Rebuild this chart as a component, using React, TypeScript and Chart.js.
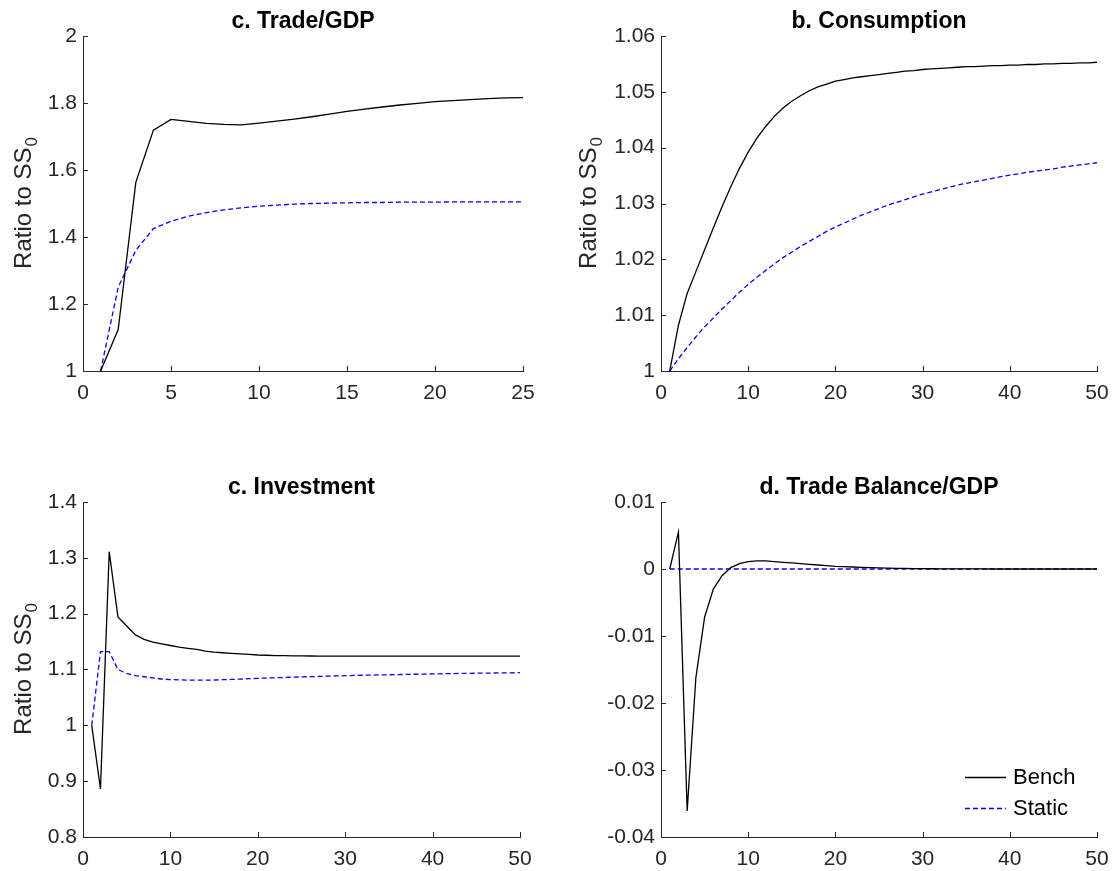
import React, { useEffect, useRef } from "react";
import { Chart, registerables } from "chart.js";

Chart.register(...registerables);

const FONT = "'Liberation Sans', Arial, Helvetica, sans-serif";
const AXIS_COLOR = "#262626";

// ---------- categories (periods) ----------
const PERIODS_25 = [1, 2, 3, 4, 5, 6, 7, 8, 9, 10, 11, 12, 13, 14, 15, 16, 17, 18, 19, 20, 21, 22, 23, 24, 25];
const PERIODS_50 = [
  1, 2, 3, 4, 5, 6, 7, 8, 9, 10, 11, 12, 13, 14, 15, 16, 17, 18, 19, 20, 21, 22, 23, 24, 25,
  26, 27, 28, 29, 30, 31, 32, 33, 34, 35, 36, 37, 38, 39, 40, 41, 42, 43, 44, 45, 46, 47, 48, 49, 50,
];

// ---------- series ----------
const TRADE_GDP_BENCH = [
  1.0, 1.124, 1.563, 1.719, 1.751, 1.745, 1.739, 1.736, 1.735, 1.74, 1.746, 1.752, 1.759,
  1.767, 1.775, 1.782, 1.788, 1.794, 1.799, 1.804, 1.807, 1.81, 1.813, 1.815, 1.816,
];
const TRADE_GDP_STATIC = [
  1.0, 1.25, 1.36, 1.425, 1.447, 1.462, 1.473, 1.481, 1.487, 1.492, 1.495, 1.498, 1.5,
  1.501, 1.502, 1.503, 1.503, 1.504, 1.504, 1.504, 1.505, 1.505, 1.505, 1.505, 1.505,
];

const CONSUMPTION_BENCH = [
  1.0, 1.0082, 1.0139, 1.0178, 1.0217, 1.0256, 1.0294, 1.033, 1.0363, 1.0392,
  1.0417, 1.0438, 1.0456, 1.0471, 1.0483, 1.0493, 1.0502, 1.0509, 1.0514, 1.0519,
  1.0522, 1.0525, 1.0527, 1.0529, 1.0531, 1.0533, 1.0535, 1.0537, 1.0538, 1.054,
  1.0541, 1.0542, 1.0543, 1.0544, 1.0545, 1.0545, 1.0546, 1.0547, 1.0547, 1.0548,
  1.0548, 1.0549, 1.0549, 1.055, 1.055, 1.0551, 1.0551, 1.0552, 1.0552, 1.0553,
];
const CONSUMPTION_STATIC = [
  1.0, 1.0022, 1.0042, 1.0061, 1.0079, 1.0095, 1.0111, 1.0126, 1.0141, 1.0155,
  1.0168, 1.018, 1.0192, 1.0203, 1.0213, 1.0223, 1.0232, 1.0241, 1.025, 1.0258,
  1.0265, 1.0272, 1.0279, 1.0285, 1.0291, 1.0297, 1.0302, 1.0307, 1.0312, 1.0317,
  1.0321, 1.0325, 1.0329, 1.0333, 1.0336, 1.0339, 1.0342, 1.0345, 1.0348, 1.0351,
  1.0353, 1.0356, 1.0358, 1.036, 1.0362, 1.0365, 1.0367, 1.0369, 1.0371, 1.0373,
];

const INVESTMENT_BENCH = [
  1.0, 0.886, 1.311, 1.194, 1.178, 1.162, 1.154, 1.149, 1.146, 1.143,
  1.14, 1.138, 1.136, 1.133, 1.131, 1.13, 1.129, 1.128, 1.127, 1.126,
  1.1255, 1.125, 1.1248, 1.1245, 1.1243, 1.1242, 1.1241, 1.124, 1.124, 1.124,
  1.124, 1.124, 1.124, 1.124, 1.124, 1.124, 1.124, 1.124, 1.124, 1.124,
  1.124, 1.124, 1.124, 1.124, 1.124, 1.124, 1.124, 1.124, 1.124, 1.124,
];
const INVESTMENT_STATIC = [
  1.0, 1.132, 1.132, 1.1, 1.093, 1.089, 1.087, 1.085, 1.083, 1.082,
  1.0815, 1.081, 1.081, 1.081, 1.0812, 1.0817, 1.0822, 1.0828, 1.0835, 1.0842,
  1.0847, 1.0852, 1.0857, 1.0862, 1.0867, 1.0872, 1.0876, 1.088, 1.0885, 1.0889,
  1.0893, 1.0897, 1.09, 1.0903, 1.0906, 1.0909, 1.0912, 1.0915, 1.0918, 1.092,
  1.0923, 1.0926, 1.0929, 1.0931, 1.0933, 1.0935, 1.0937, 1.0939, 1.0941, 1.0943,
];

const TB_GDP_BENCH = [
  0.0, 0.0055, -0.0361, -0.0162, -0.0072, -0.003, -0.001, 0.0002, 0.0008, 0.0011,
  0.0012, 0.0012, 0.0011, 0.001, 0.0009, 0.0008, 0.0007, 0.0006, 0.0005, 0.0004,
  0.00035, 0.0003, 0.00025, 0.0002, 0.00016, 0.00013, 0.0001, 0.00008, 0.00006, 0.00005,
  0.00004, 0.00003, 0.00002, 0.00002, 0.00001, 0.00001, 0.00001, 0.0, 0.0, 0.0,
  0.0, 0.0, 0.0, 0.0, 0.0, 0.0, 0.0, 0.0, 0.0, 0.0,
];
const TB_GDP_STATIC = [
  0, 0, 0, 0, 0, 0, 0, 0, 0, 0, 0, 0, 0, 0, 0, 0, 0, 0, 0, 0, 0, 0, 0, 0, 0,
  0, 0, 0, 0, 0, 0, 0, 0, 0, 0, 0, 0, 0, 0, 0, 0, 0, 0, 0, 0, 0, 0, 0, 0, 0,
];

// ---------- ticks ----------
const X_TICKS_25 = [0, 5, 10, 15, 20, 25];
const X_LABELS_25 = ["0", "5", "10", "15", "20", "25"];
const X_TICKS_50 = [0, 10, 20, 30, 40, 50];
const X_LABELS_50 = ["0", "10", "20", "30", "40", "50"];

const TRADE_GDP_Y_TICKS = [1, 1.2, 1.4, 1.6, 1.8, 2];
const TRADE_GDP_Y_LABELS = ["1", "1.2", "1.4", "1.6", "1.8", "2"];
const CONSUMPTION_Y_TICKS = [1, 1.01, 1.02, 1.03, 1.04, 1.05, 1.06];
const CONSUMPTION_Y_LABELS = ["1", "1.01", "1.02", "1.03", "1.04", "1.05", "1.06"];
const INVESTMENT_Y_TICKS = [0.8, 0.9, 1, 1.1, 1.2, 1.3, 1.4];
const INVESTMENT_Y_LABELS = ["0.8", "0.9", "1", "1.1", "1.2", "1.3", "1.4"];
const TB_GDP_Y_TICKS = [-0.04, -0.03, -0.02, -0.01, 0, 0.01];
const TB_GDP_Y_LABELS = ["-0.04", "-0.03", "-0.02", "-0.01", "0", "0.01"];

const SERIES_NAMES = ["Bench", "Static"];
const Y_TITLE = "Ratio to SS";
const Y_TITLE_SUB = "0";

type Panel = {
  title: string;
  periods: number[];
  bench: number[];
  stat: number[];
  xTicks: number[];
  xLabels: string[];
  yTicks: number[];
  yLabels: string[];
  showYTitle: boolean;
  showLegend: boolean;
  box: { left: number; top: number; width: number; height: number };
  area: { left: number; right: number; top: number; bottom: number };
  yTitleOffset: number;
};

const PANELS: Panel[] = [
  {
    title: "c. Trade/GDP",
    periods: PERIODS_25,
    bench: TRADE_GDP_BENCH,
    stat: TRADE_GDP_STATIC,
    xTicks: X_TICKS_25,
    xLabels: X_LABELS_25,
    yTicks: TRADE_GDP_Y_TICKS,
    yLabels: TRADE_GDP_Y_LABELS,
    showYTitle: true,
    showLegend: false,
    box: { left: 0, top: 0, width: 560, height: 436 },
    area: { left: 83, right: 523, top: 36, bottom: 371 },
    yTitleOffset: 52.5,
  },
  {
    title: "b. Consumption",
    periods: PERIODS_50,
    bench: CONSUMPTION_BENCH,
    stat: CONSUMPTION_STATIC,
    xTicks: X_TICKS_50,
    xLabels: X_LABELS_50,
    yTicks: CONSUMPTION_Y_TICKS,
    yLabels: CONSUMPTION_Y_LABELS,
    showYTitle: true,
    showLegend: false,
    box: { left: 560, top: 0, width: 559, height: 436 },
    area: { left: 101, right: 537, top: 36, bottom: 371 },
    yTitleOffset: 65,
  },
  {
    title: "c. Investment",
    periods: PERIODS_50,
    bench: INVESTMENT_BENCH,
    stat: INVESTMENT_STATIC,
    xTicks: X_TICKS_50,
    xLabels: X_LABELS_50,
    yTicks: INVESTMENT_Y_TICKS,
    yLabels: INVESTMENT_Y_LABELS,
    showYTitle: true,
    showLegend: false,
    box: { left: 0, top: 436, width: 560, height: 435 },
    area: { left: 83, right: 520, top: 66, bottom: 401 },
    yTitleOffset: 52.5,
  },
  {
    title: "d. Trade Balance/GDP",
    periods: PERIODS_50,
    bench: TB_GDP_BENCH,
    stat: TB_GDP_STATIC,
    xTicks: X_TICKS_50,
    xLabels: X_LABELS_50,
    yTicks: TB_GDP_Y_TICKS,
    yLabels: TB_GDP_Y_LABELS,
    showYTitle: false,
    showLegend: true,
    box: { left: 560, top: 436, width: 559, height: 435 },
    area: { left: 101, right: 537, top: 66, bottom: 401 },
    yTitleOffset: 65,
  },
];

const X_AXIS_H = 30;
const BENCH_COLOR = "#000000";
const STATIC_COLOR = "#0000ff";
const STATIC_DASH = [5, 3];
const TICK_FONT_SIZE = 21;
const TITLE_FONT_SIZE = 23;
const LABEL_FONT_SIZE = 24;
const SUB_FONT_SIZE = 17;
const LEGEND_FONT_SIZE = 22;

function makeDecorPlugin(p: Panel) {
  return {
    id: "matlabDecor",
    afterDraw(chart: any) {
      const { ctx, chartArea, scales } = chart;
      const { left, right, top, bottom } = chartArea;
      ctx.save();
      // inward ticks
      ctx.strokeStyle = AXIS_COLOR;
      ctx.lineWidth = 1;
      ctx.setLineDash([]);
      ctx.beginPath();
      for (const t of scales.x.ticks) {
        const px = Math.round(scales.x.getPixelForValue(t.value)) + 0.5;
        ctx.moveTo(px, bottom);
        ctx.lineTo(px, bottom - 5);
      }
      for (const t of scales.y.ticks) {
        const py = Math.round(scales.y.getPixelForValue(t.value)) + 0.5;
        ctx.moveTo(left, py);
        ctx.lineTo(left + 5, py);
      }
      ctx.stroke();

      // title
      ctx.fillStyle = "#000000";
      ctx.font = `bold ${TITLE_FONT_SIZE}px ${FONT}`;
      ctx.textAlign = "center";
      ctx.textBaseline = "alphabetic";
      ctx.fillText(p.title, (left + right) / 2, top - 8);

      // y axis title with subscript
      if (p.showYTitle) {
        ctx.save();
        ctx.fillStyle = AXIS_COLOR;
        ctx.translate(left - p.yTitleOffset, (top + bottom) / 2);
        ctx.rotate(-Math.PI / 2);
        ctx.font = `${LABEL_FONT_SIZE}px ${FONT}`;
        const w1 = ctx.measureText(Y_TITLE).width;
        ctx.font = `${SUB_FONT_SIZE}px ${FONT}`;
        const w2 = ctx.measureText(Y_TITLE_SUB).width;
        const start = -(w1 + w2) / 2;
        ctx.textAlign = "left";
        ctx.textBaseline = "alphabetic";
        ctx.font = `${LABEL_FONT_SIZE}px ${FONT}`;
        ctx.fillText(Y_TITLE, start, 0);
        ctx.font = `${SUB_FONT_SIZE}px ${FONT}`;
        ctx.fillText(Y_TITLE_SUB, start + w1 + 1, 6);
        ctx.restore();
      }

      // legend
      if (p.showLegend) {
        const ds = chart.data.datasets;
        const rows = [bottom - 60, bottom - 29];
        ds.forEach((d: any, i: number) => {
          const y = rows[i] + 0.5;
          ctx.beginPath();
          ctx.strokeStyle = d.borderColor;
          ctx.lineWidth = d.borderWidth;
          ctx.setLineDash(d.borderDash || []);
          ctx.moveTo(right - 132, y);
          ctx.lineTo(right - 91, y);
          ctx.stroke();
          ctx.setLineDash([]);
          ctx.fillStyle = "#000000";
          ctx.font = `${LEGEND_FONT_SIZE}px ${FONT}`;
          ctx.textAlign = "left";
          ctx.textBaseline = "middle";
          ctx.fillText(d.label, right - 84, rows[i] + 1);
        });
      }
      ctx.restore();
    },
  };
}

function PanelChart({ p }: { p: Panel }) {
  const ref = useRef<HTMLCanvasElement | null>(null);
  useEffect(() => {
    if (!ref.current) return;
    const { box, area } = p;
    const tickFont = { family: FONT, size: TICK_FONT_SIZE };
    const chart = new Chart(ref.current, {
      type: "line",
      data: {
        datasets: [
          {
            label: SERIES_NAMES[0],
            data: p.periods.map((t, i) => ({ x: t, y: p.bench[i] })),
            borderColor: BENCH_COLOR,
            borderWidth: 1.3,
            pointRadius: 0,
            tension: 0,
            fill: false,
          },
          {
            label: SERIES_NAMES[1],
            data: p.periods.map((t, i) => ({ x: t, y: p.stat[i] })),
            borderColor: STATIC_COLOR,
            borderWidth: 1.3,
            borderDash: STATIC_DASH,
            pointRadius: 0,
            tension: 0,
            fill: false,
          },
        ],
      },
      options: {
        responsive: false,
        animation: false,
        devicePixelRatio: 1,
        layout: {
          padding: {
            left: 0,
            top: area.top,
            right: box.width - area.right,
            bottom: box.height - area.bottom - X_AXIS_H,
          },
        },
        plugins: {
          legend: { display: false },
          tooltip: { enabled: false },
          title: { display: false },
        },
        scales: {
          x: {
            type: "linear",
            min: p.xTicks[0],
            max: p.xTicks[p.xTicks.length - 1],
            afterBuildTicks: (s: any) => {
              s.ticks = p.xTicks.map((v) => ({ value: v }));
            },
            afterFit: (s: any) => {
              s.height = X_AXIS_H;
            },
            ticks: {
              callback: (_v: any, i: number) => p.xLabels[i],
              color: AXIS_COLOR,
              font: tickFont,
              padding: 10,
              maxRotation: 0,
              autoSkip: false,
            },
            grid: { display: true, drawOnChartArea: false, drawTicks: false },
            border: { display: true, color: AXIS_COLOR, width: 1 },
          },
          y: {
            type: "linear",
            min: p.yTicks[0],
            max: p.yTicks[p.yTicks.length - 1],
            afterBuildTicks: (s: any) => {
              s.ticks = p.yTicks.map((v) => ({ value: v }));
            },
            afterFit: (s: any) => {
              s.width = area.left;
            },
            ticks: {
              callback: (_v: any, i: number) => p.yLabels[i],
              color: AXIS_COLOR,
              font: tickFont,
              padding: 6,
              autoSkip: false,
            },
            grid: { display: true, drawOnChartArea: false, drawTicks: false },
            border: { display: true, color: AXIS_COLOR, width: 1 },
          },
        },
      } as any,
      plugins: [makeDecorPlugin(p)],
    } as any);
    return () => chart.destroy();
  }, [p]);
  return (
    <canvas
      ref={ref}
      width={p.box.width}
      height={p.box.height}
      style={{
        position: "absolute",
        left: p.box.left,
        top: p.box.top,
        width: p.box.width,
        height: p.box.height,
        display: "block",
      }}
    />
  );
}

export default function App() {
  return (
    <div
      style={{
        position: "absolute",
        left: 0,
        top: 0,
        width: 1119,
        height: 871,
        background: "#ffffff",
        overflow: "hidden",
      }}
    >
      {PANELS.map((p) => (
        <PanelChart key={p.title} p={p} />
      ))}
    </div>
  );
}
